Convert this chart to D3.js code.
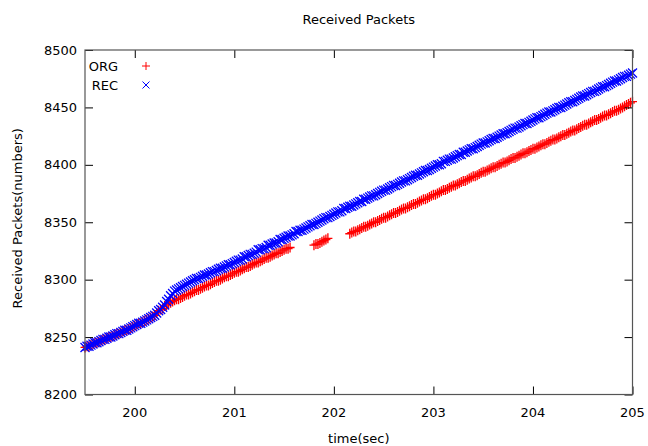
<!DOCTYPE html>
<html>
<head>
<meta charset="utf-8">
<script src="https://cdn.jsdelivr.net/npm/d3@7"></script>
<style>
  body { margin: 0; background: #fff; }
  text { font-family: "DejaVu Sans", sans-serif; font-size: 13px; fill: #000; }
</style>
</head>
<body>
<div class="chart"></div>
<script>
// time stamps (sec), one sample every 20 ms
var times = [
  199.50, 199.52, 199.54, 199.56, 199.58, 199.60, 199.62, 199.64, 199.66, 199.68, 199.70, 199.72, 199.74,
  199.76, 199.78, 199.80, 199.82, 199.84, 199.86, 199.88, 199.90, 199.92, 199.94, 199.96, 199.98,
  200.00, 200.02, 200.04, 200.06, 200.08, 200.10, 200.12, 200.14, 200.16, 200.18, 200.20, 200.22, 200.24,
  200.26, 200.28, 200.30, 200.32, 200.34, 200.36, 200.38, 200.40, 200.42, 200.44, 200.46, 200.48,
  200.50, 200.52, 200.54, 200.56, 200.58, 200.60, 200.62, 200.64, 200.66, 200.68, 200.70, 200.72, 200.74,
  200.76, 200.78, 200.80, 200.82, 200.84, 200.86, 200.88, 200.90, 200.92, 200.94, 200.96, 200.98,
  201.00, 201.02, 201.04, 201.06, 201.08, 201.10, 201.12, 201.14, 201.16, 201.18, 201.20, 201.22, 201.24,
  201.26, 201.28, 201.30, 201.32, 201.34, 201.36, 201.38, 201.40, 201.42, 201.44, 201.46, 201.48,
  201.50, 201.52, 201.54, 201.56, 201.58, 201.60, 201.62, 201.64, 201.66, 201.68, 201.70, 201.72, 201.74,
  201.76, 201.78, 201.80, 201.82, 201.84, 201.86, 201.88, 201.90, 201.92, 201.94, 201.96, 201.98,
  202.00, 202.02, 202.04, 202.06, 202.08, 202.10, 202.12, 202.14, 202.16, 202.18, 202.20, 202.22, 202.24,
  202.26, 202.28, 202.30, 202.32, 202.34, 202.36, 202.38, 202.40, 202.42, 202.44, 202.46, 202.48,
  202.50, 202.52, 202.54, 202.56, 202.58, 202.60, 202.62, 202.64, 202.66, 202.68, 202.70, 202.72, 202.74,
  202.76, 202.78, 202.80, 202.82, 202.84, 202.86, 202.88, 202.90, 202.92, 202.94, 202.96, 202.98,
  203.00, 203.02, 203.04, 203.06, 203.08, 203.10, 203.12, 203.14, 203.16, 203.18, 203.20, 203.22, 203.24,
  203.26, 203.28, 203.30, 203.32, 203.34, 203.36, 203.38, 203.40, 203.42, 203.44, 203.46, 203.48,
  203.50, 203.52, 203.54, 203.56, 203.58, 203.60, 203.62, 203.64, 203.66, 203.68, 203.70, 203.72, 203.74,
  203.76, 203.78, 203.80, 203.82, 203.84, 203.86, 203.88, 203.90, 203.92, 203.94, 203.96, 203.98,
  204.00, 204.02, 204.04, 204.06, 204.08, 204.10, 204.12, 204.14, 204.16, 204.18, 204.20, 204.22, 204.24,
  204.26, 204.28, 204.30, 204.32, 204.34, 204.36, 204.38, 204.40, 204.42, 204.44, 204.46, 204.48,
  204.50, 204.52, 204.54, 204.56, 204.58, 204.60, 204.62, 204.64, 204.66, 204.68, 204.70, 204.72, 204.74,
  204.76, 204.78, 204.80, 204.82, 204.84, 204.86, 204.88, 204.90, 204.92, 204.94, 204.96, 204.98,
  205.00
];

// ORG received packets (null = nothing logged)
var orgPackets = [
  8241, 8242, 8242, 8243, 8244, 8245, 8245, 8246, 8247, 8248, 8248, 8249, 8250,
  8250, 8251, 8252, 8253, 8253, 8254, 8255, 8256, 8256, 8257, 8258, 8259,
  8260, 8261, 8262, 8262, 8263, 8264, 8265, 8266, 8267, 8268, 8269, 8271, 8273,
  8274, 8275, 8277, 8278, 8279, 8280, 8281, 8282, 8283, 8283, 8284, 8285,
  8286, 8287, 8287, 8288, 8289, 8290, 8291, 8291, 8292, 8293, 8294, 8295, 8295,
  8296, 8297, 8298, 8299, 8299, 8300, 8301, 8302, 8303, 8303, 8304, 8305,
  8306, 8307, 8307, 8308, 8309, 8310, 8311, 8311, 8312, 8313, 8314, 8315, 8315,
  8316, 8317, 8318, 8319, 8319, 8320, 8321, 8322, 8323, 8323, 8324, 8325,
  8326, 8327, 8327, 8328, null, null, null, null, null, null, null, null, null,
  null, null, 8330, 8331, 8331, 8332, 8333, 8334, 8335, 8336, null, null,
  null, null, null, null, null, null, null, null, 8340, 8341, 8342, 8342, 8343,
  8344, 8345, 8346, 8346, 8347, 8348, 8349, 8350, 8350, 8351, 8352, 8353,
  8354, 8354, 8355, 8356, 8357, 8358, 8358, 8359, 8360, 8361, 8362, 8362, 8363,
  8364, 8365, 8366, 8366, 8367, 8368, 8369, 8370, 8370, 8371, 8372, 8373,
  8374, 8374, 8375, 8376, 8377, 8378, 8378, 8379, 8380, 8381, 8382, 8382, 8383,
  8384, 8385, 8386, 8386, 8387, 8388, 8389, 8390, 8390, 8391, 8392, 8393,
  8394, 8394, 8395, 8396, 8397, 8398, 8398, 8399, 8400, 8401, 8402, 8402, 8403,
  8404, 8405, 8406, 8406, 8407, 8408, 8409, 8410, 8410, 8411, 8412, 8413,
  8414, 8414, 8415, 8416, 8417, 8418, 8418, 8419, 8420, 8421, 8422, 8422, 8423,
  8424, 8425, 8426, 8426, 8427, 8428, 8429, 8430, 8430, 8431, 8432, 8433,
  8434, 8435, 8435, 8436, 8437, 8438, 8439, 8439, 8440, 8441, 8442, 8443, 8443,
  8444, 8445, 8446, 8447, 8447, 8448, 8449, 8450, 8451, 8452, 8453, 8454,
  8455
];

// REC received packets
var recPackets = [
  8241, 8242, 8242, 8243, 8244, 8245, 8245, 8246, 8247, 8248, 8248, 8249, 8250,
  8250, 8251, 8252, 8253, 8253, 8254, 8255, 8256, 8256, 8257, 8258, 8259,
  8260, 8261, 8262, 8262, 8263, 8264, 8265, 8266, 8267, 8268, 8269, 8271, 8273,
  8274, 8276, 8278, 8281, 8283, 8286, 8288, 8290, 8291, 8292, 8293, 8294,
  8295, 8296, 8297, 8298, 8299, 8300, 8301, 8301, 8302, 8303, 8304, 8304, 8305,
  8306, 8307, 8307, 8308, 8309, 8310, 8310, 8311, 8312, 8313, 8313, 8314,
  8315, 8316, 8317, 8317, 8318, 8320, 8320, 8321, 8322, 8322, 8323, 8324, 8326,
  8326, 8327, 8327, 8328, 8330, 8330, 8331, 8332, 8332, 8333, 8335, 8335,
  8336, 8337, 8338, 8338, 8339, 8340, 8342, 8342, 8343, 8343, 8344, 8345, 8346,
  8347, 8348, 8348, 8349, 8350, 8351, 8352, 8353, 8354, 8354, 8355, 8356,
  8357, 8358, 8359, 8359, 8360, 8362, 8362, 8363, 8364, 8364, 8365, 8366, 8367,
  8368, 8368, 8370, 8370, 8371, 8372, 8373, 8373, 8374, 8375, 8376, 8377,
  8378, 8378, 8379, 8380, 8381, 8382, 8382, 8383, 8384, 8385, 8386, 8386, 8387,
  8388, 8389, 8390, 8391, 8391, 8392, 8393, 8394, 8395, 8395, 8396, 8397,
  8398, 8399, 8400, 8400, 8401, 8403, 8403, 8404, 8405, 8405, 8406, 8407, 8408,
  8409, 8409, 8411, 8411, 8412, 8413, 8414, 8414, 8415, 8416, 8417, 8418,
  8419, 8419, 8420, 8421, 8422, 8423, 8423, 8424, 8425, 8426, 8427, 8427, 8428,
  8429, 8430, 8431, 8432, 8432, 8433, 8434, 8435, 8436, 8436, 8437, 8438,
  8439, 8440, 8441, 8441, 8442, 8443, 8444, 8445, 8446, 8446, 8447, 8448, 8449,
  8450, 8450, 8451, 8452, 8453, 8454, 8455, 8455, 8456, 8457, 8458, 8459,
  8460, 8460, 8461, 8462, 8463, 8464, 8464, 8465, 8466, 8467, 8468, 8468, 8469,
  8470, 8471, 8472, 8473, 8473, 8474, 8475, 8476, 8477, 8477, 8478, 8479,
  8480
];

var xTicks = [200, 201, 202, 203, 204, 205];
var yTicks = [8200, 8250, 8300, 8350, 8400, 8450, 8500];
var seriesNames = ["ORG", "REC"];

var width = 648, height = 446;
var margin = {top: 50, right: 15.5, bottom: 51.5, left: 85};

var svg = d3.select(".chart").append("svg")
            .attr("width", width)
            .attr("height", height);

var x = d3.scaleLinear().domain([199.5, 205]).range([margin.left, width - margin.right]);
var y = d3.scaleLinear().domain([8200, 8500]).range([height - margin.bottom, margin.top]);

// plot markers
var plusPath = "M-4.5,0H4.5M0,-5V5";
var crossPath = "M-4.5,-4.5L4.5,4.5M-4.5,4.5L4.5,-4.5";
// legend markers are a bit smaller
var plusKey = "M-4,0H4M0,-4V4";
var crossKey = "M-3.5,-3.5L3.5,3.5M-3.5,3.5L3.5,-3.5";

// points: ORG first, REC drawn over it
function drawSeries(values, path, color){
    var pts = times.map(function(t, i){ return {t: t, v: values[i]}; })
                   .filter(function(d){ return d.v != null; });
    svg.append("g").selectAll("path")
       .data(pts)
       .enter()
       .append("path")
       .attr("d", path)
       .attr("transform", function(d){ return "translate(" + x(d.t) + "," + y(d.v) + ")"; })
       .attr("fill", "none")
       .attr("stroke", color)
       .attr("stroke-width", 1.3);
}
drawSeries(orgPackets, plusPath, "#ff0000");
drawSeries(recPackets, crossPath, "#0000ff");

// axes with inward ticks, mirrored on top / right
var tick = 8;
svg.append("g")
   .attr("transform", "translate(0," + (height - margin.bottom) + ")")
   .call(d3.axisTop(x).tickValues(xTicks).tickSize(tick).tickFormat(""))
   .call(function(g){ g.select(".domain").remove(); });
svg.append("g")
   .attr("transform", "translate(0," + margin.top + ")")
   .call(d3.axisBottom(x).tickValues(xTicks).tickSize(tick).tickFormat(""))
   .call(function(g){ g.select(".domain").remove(); });
svg.append("g")
   .attr("transform", "translate(" + margin.left + ",0)")
   .call(d3.axisRight(y).tickValues(yTicks).tickSize(tick).tickFormat(""))
   .call(function(g){ g.select(".domain").remove(); });
svg.append("g")
   .attr("transform", "translate(" + (width - margin.right) + ",0)")
   .call(d3.axisLeft(y).tickValues(yTicks).tickSize(tick).tickFormat(""))
   .call(function(g){ g.select(".domain").remove(); });

svg.selectAll(".tick line").attr("stroke", "#000");

// frame
svg.append("rect")
   .attr("x", margin.left)
   .attr("y", margin.top)
   .attr("width", width - margin.left - margin.right)
   .attr("height", height - margin.top - margin.bottom)
   .attr("fill", "none")
   .attr("stroke", "#555")
   .attr("stroke-width", 1.2);

// tick labels
svg.append("g").selectAll("text")
   .data(xTicks)
   .enter()
   .append("text")
   .attr("x", function(d){ return x(d); })
   .attr("y", height - margin.bottom + 22)
   .attr("text-anchor", "middle")
   .text(function(d){ return d; });

svg.append("g").selectAll("text")
   .data(yTicks)
   .enter()
   .append("text")
   .attr("x", margin.left - 8)
   .attr("y", function(d){ return y(d) + 4.5; })
   .attr("text-anchor", "end")
   .text(function(d){ return d; });

// titles
svg.append("text")
   .attr("x", (margin.left + width - margin.right) / 2)
   .attr("y", 24)
   .attr("text-anchor", "middle")
   .text("Received Packets");

svg.append("text")
   .attr("x", (margin.left + width - margin.right) / 2)
   .attr("y", 443)
   .attr("text-anchor", "middle")
   .text("time(sec)");

svg.append("text")
   .attr("transform", "translate(22," + ((margin.top + height - margin.bottom) / 2 - 4) + ") rotate(-90)")
   .attr("text-anchor", "middle")
   .text("Received Packets(numbers)");

// legend
var legend = svg.append("g").selectAll("g")
                .data(seriesNames)
                .enter()
                .append("g")
                .attr("transform", function(d, i){ return "translate(0," + (66 + i * 19) + ")"; });
legend.append("text")
      .attr("x", 118)
      .attr("y", 4.5)
      .attr("text-anchor", "end")
      .text(function(d){ return d; });
legend.append("path")
      .attr("transform", "translate(146,0)")
      .attr("d", function(d, i){ return i == 0 ? plusKey : crossKey; })
      .attr("fill", "none")
      .attr("stroke", function(d, i){ return i == 0 ? "#ff0000" : "#0000ff"; });
</script>
</body>
</html>
